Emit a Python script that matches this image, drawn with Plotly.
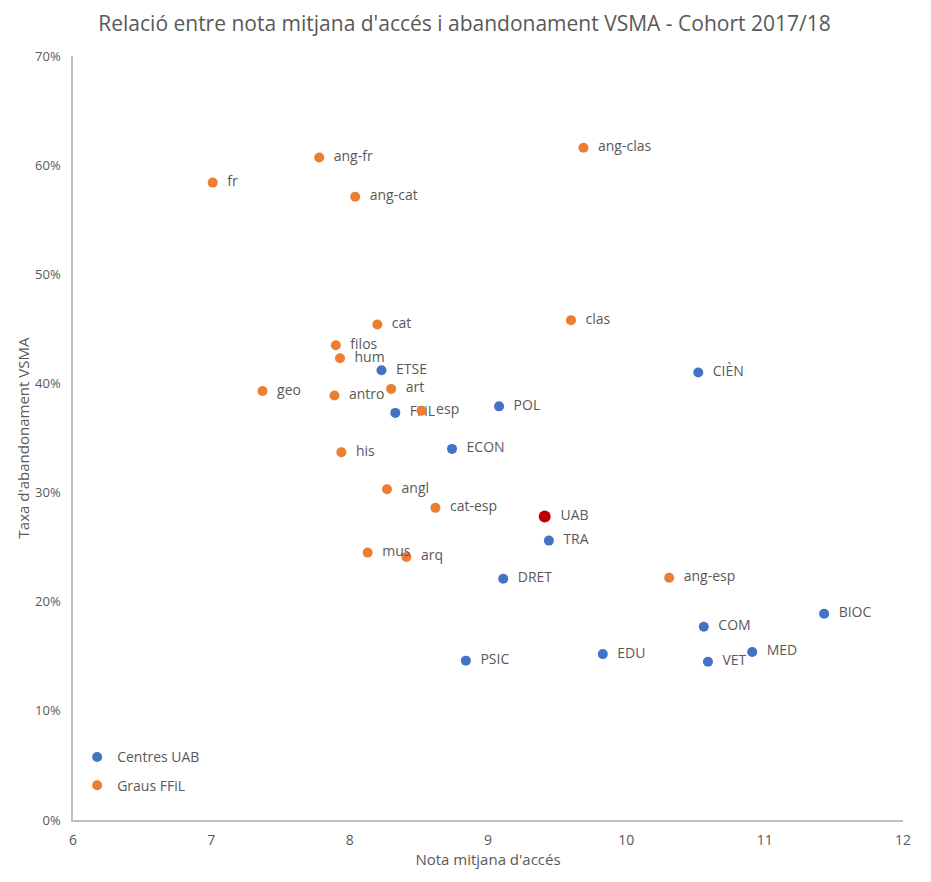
import plotly.graph_objects as go

# Graus FFiL (orange)
ffil_labels = ["ang-fr", "fr", "ang-cat", "ang-clas", "cat", "clas", "filos", "hum", "geo",
               "antro", "art", "esp", "his", "angl", "cat-esp", "mus", "arq", "ang-esp"]
ffil_x = [7.78, 7.01, 8.04, 9.69, 8.20, 9.60, 7.90, 7.93, 7.37,
          7.89, 8.30, 8.52, 7.94, 8.27, 8.62, 8.13, 8.41, 10.31]
ffil_y = [0.607, 0.584, 0.571, 0.616, 0.454, 0.458, 0.435, 0.423, 0.393,
          0.389, 0.395, 0.375, 0.337, 0.303, 0.286, 0.245, 0.241, 0.222]

# Centres UAB (blue)
uab_labels = ["ETSE", "FFiL", "POL", "ECON", "CIÈN", "TRA", "DRET", "BIOC", "COM",
              "PSIC", "EDU", "VET", "MED"]
uab_x = [8.23, 8.33, 9.08, 8.74, 10.52, 9.44, 9.11, 11.43, 10.56,
         8.84, 9.83, 10.59, 10.91]
uab_y = [0.412, 0.373, 0.379, 0.340, 0.410, 0.256, 0.221, 0.189, 0.177,
         0.146, 0.152, 0.145, 0.154]

# UAB total (red)
total_labels = ["UAB"]
total_x = [9.41]
total_y = [0.278]

BLUE = "#4472C4"
ORANGE = "#ED7D31"
RED = "#C00000"
GREY = "#595959"
FONT = "Open Sans"
TPL = "\u00a0\u00a0%{text}"

fig = go.Figure()
fig.add_trace(go.Scatter(
    x=uab_x, y=uab_y, text=uab_labels, texttemplate=TPL, mode="markers+text",
    name="Centres UAB", legend="legend",
    textposition="middle right",
    marker=dict(color=BLUE, size=10),
    textfont=dict(color=GREY, size=14, family=FONT),
))
fig.add_trace(go.Scatter(
    x=ffil_x, y=ffil_y, text=ffil_labels, texttemplate=TPL, mode="markers+text",
    name="Graus FFiL", legend="legend2",
    textposition="middle right",
    marker=dict(color=ORANGE, size=10),
    textfont=dict(color=GREY, size=14, family=FONT),
))
fig.add_trace(go.Scatter(
    x=total_x, y=total_y, text=total_labels, texttemplate=TPL, mode="markers+text",
    name="UAB", showlegend=False,
    textposition="middle right",
    marker=dict(color=RED, size=12),
    textfont=dict(color=GREY, size=14, family=FONT),
))

legend_common = dict(xanchor="left", yanchor="middle", bgcolor="rgba(0,0,0,0)",
                     font=dict(size=14, color=GREY, family=FONT), itemwidth=30)

fig.update_layout(
    width=913, height=864,
    paper_bgcolor="white", plot_bgcolor="white",
    margin=dict(l=65, r=10, t=48, b=44),
    font=dict(family=FONT, color=GREY, size=13),
    title=dict(text="Relació entre nota mitjana d'accés i abandonament VSMA - Cohort 2017/18",
               x=0.5, xanchor="center", y=0.982, yanchor="middle",
               font=dict(size=21, color=GREY, family=FONT)),
    legend=dict(x=0.005, y=0.082, **legend_common),
    legend2=dict(x=0.005, y=0.045, **legend_common),
    showlegend=True,
)
fig.update_xaxes(
    range=[6, 12], dtick=1, showgrid=False, zeroline=False,
    showline=True, linecolor="#BFBFBF", linewidth=1.5,
    ticks="", ticklabelstandoff=6,
    tickfont=dict(size=14, color=GREY),
    title=dict(text="Nota mitjana d'accés", font=dict(size=15, color=GREY), standoff=3),
)
fig.update_yaxes(
    range=[0, 0.7], dtick=0.1, tickformat=".0%", showgrid=False, zeroline=False,
    showline=True, linecolor="#BFBFBF", linewidth=1.5,
    ticks="", ticklabelstandoff=8, tickfont=dict(size=13, color=GREY),
    title=dict(text="Taxa d'abandonament VSMA", font=dict(size=15, color=GREY), standoff=2),
)

fig.write_html("out.html")
